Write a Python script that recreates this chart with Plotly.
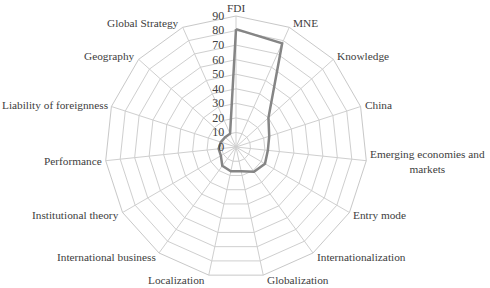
import math
import plotly.graph_objects as go

categories = ["FDI", "MNE", "Knowledge", "China", "Emerging economies and markets",
              "Entry mode", "Internationalization", "Globalization", "Localization",
              "International business", "Institutional theory", "Performance",
              "Liability of foreignness", "Geography", "Global Strategy"]
label_text = ["FDI", "MNE", "Knowledge", "China", "Emerging economies and<br>markets",
              "Entry mode", "Internationalization", "Globalization", "Localization",
              "International business", "Institutional theory", "Performance",
              "Liability of foreignness", "Geography", "Global Strategy"]
values = [81, 78, 30, 24, 22, 23, 21, 17, 17, 16, 12, 12, 11, 10, 10]
radial_ticks = [0, 10, 20, 30, 40, 50, 60, 70, 80, 90]

fig = go.Figure()
fig.add_trace(go.Scatterpolar(
    r=values + values[:1],
    theta=categories + categories[:1],
    mode="lines",
    line=dict(color="#858585", width=2.5),
    showlegend=False,
))

W, H = 490, 288
cx, cy, R = 236, 147, 131
FONT = "Liberation Serif, Times New Roman, serif"
TXT = "#404040"

# category labels placed around the outer polygon (Excel-like placement)
n = len(categories)
for i, lab in enumerate(label_text):
    th = math.radians(360.0 * i / n)
    s, c = math.sin(th), math.cos(th)
    vx, vy = cx + R * s, cy - R * c
    if abs(s) < 0.1:
        px, xa = vx, "center"
        py = vy - 8 if c > 0 else vy + 8
    else:
        px = vx + (3 if s > 0 else -2.5)
        xa = "left" if s > 0 else "right"
        py = vy - 5 * c
    fig.add_annotation(
        x=px / W, y=1 - py / H, xref="paper", yref="paper",
        text=lab, showarrow=False, xanchor=xa, yanchor="middle", align="center",
        borderpad=0, font=dict(family=FONT, size=11.3, color=TXT),
    )

fig.update_layout(
    width=W, height=H,
    margin=dict(l=0, r=0, t=0, b=0),
    paper_bgcolor="white",
    font=dict(family=FONT, size=11.3, color=TXT),
    polar=dict(
        domain=dict(x=[(cx - R) / W, (cx + R) / W], y=[(H - cy - R) / H, (H - cy + R) / H]),
        bgcolor="white",
        gridshape="linear",
        angularaxis=dict(
            direction="clockwise", rotation=90,
            showline=True, linecolor="#c8c8c8", linewidth=1,
            showgrid=True, gridcolor="#cfcfcf", gridwidth=1,
            ticks="", showticklabels=False,
        ),
        radialaxis=dict(
            range=[0, 90], tickvals=radial_ticks, ticktext=[str(v) for v in radial_ticks],
            angle=90, tickangle=90, side="counterclockwise",
            showline=False, showgrid=True, gridcolor="#cfcfcf", gridwidth=1,
            ticks="outside", ticklen=7, tickcolor="rgba(0,0,0,0)",
            tickfont=dict(family=FONT, size=12, color=TXT),
        ),
    ),
)

fig.write_html("out.html")
